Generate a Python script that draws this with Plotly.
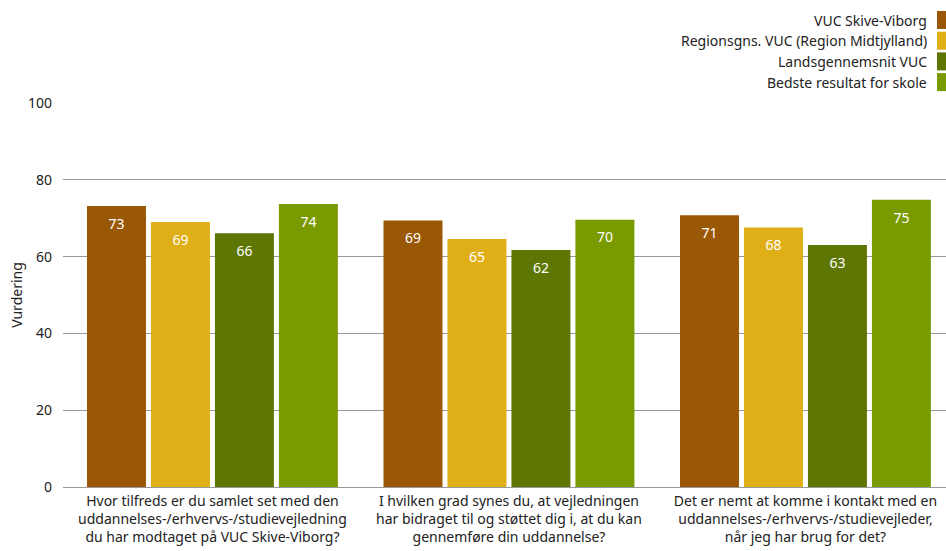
import plotly.graph_objects as go

categories = [
    "Hvor tilfreds er du samlet set med den<br>uddannelses-/erhvervs-/studievejledning<br>du har modtaget på VUC Skive-Viborg?",
    "I hvilken grad synes du, at vejledningen<br>har bidraget til og støttet dig i, at du kan<br>gennemføre din uddannelse?",
    "Det er nemt at komme i kontakt med en<br>uddannelses-/erhvervs-/studievejleder,<br>når jeg har brug for det?",
]
series_names = [
    "VUC Skive-Viborg",
    "Regionsgns. VUC (Region Midtjylland)",
    "Landsgennemsnit VUC",
    "Bedste resultat for skole",
]
vuc_skive = [73.2, 69.4, 70.8]
region_avg = [69.0, 64.6, 67.6]
national_avg = [66.1, 61.7, 63.0]
best_school = [73.7, 69.6, 74.8]
series_values = [vuc_skive, region_avg, national_avg, best_school]
colors = ["#9A5705", "#E0AE17", "#5E7603", "#7A9A01"]
y_ticks = [0, 20, 40, 60, 80, 100]

FONT = "Noto Sans, DejaVu Sans, sans-serif"

fig = go.Figure()
for i, (name, vals, col) in enumerate(zip(series_names, series_values, colors)):
    fig.add_trace(go.Bar(
        name=name, x=categories, y=vals, marker_color=col, marker_line_width=0,
        offsetgroup=str(i), showlegend=False, hoverinfo="y",
    ))
for i, (name, vals) in enumerate(zip(series_names, series_values)):
    fig.add_trace(go.Scatter(
        name=name, x=categories, y=vals, mode="markers+text",
        marker=dict(size=18, opacity=0), offsetgroup=str(i),
        text=[f"{v:.0f}" for v in vals], textposition="bottom center",
        textfont=dict(color="white", size=14, family=FONT),
        showlegend=False, hoverinfo="skip", cliponaxis=False,
    ))

# manual legend with markers on the right
for i, (name, col) in enumerate(zip(series_names, colors)):
    yc = 20 + i * 20.7
    fig.add_annotation(
        xref="paper", yref="paper", x=(929 - 63) / (946 - 63),
        y=(487 - yc) / (487 - 103), xanchor="right", yanchor="middle",
        text=name, showarrow=False,
        font=dict(size=14, color="#222222", family=FONT),
    )
    fig.add_shape(
        type="rect", xref="paper", yref="paper",
        x0=(937 - 63) / (946 - 63), x1=(947 - 63) / (946 - 63),
        y0=(487 - (yc - 9)) / (487 - 103), y1=(487 - (yc + 9)) / (487 - 103),
        fillcolor=col, line_width=0,
    )

fig.update_layout(
    width=946, height=551,
    margin=dict(l=63, r=0, t=103, b=64, autoexpand=False),
    paper_bgcolor="white", plot_bgcolor="white",
    barmode="group", bargap=0.137, bargroupgap=0.078,
    scattermode="group", scattergap=0.137,
    font=dict(family=FONT, size=14, color="#222222"),
    showlegend=False,
)
fig.update_xaxes(tickfont=dict(size=14), ticks="", showline=False,
                 range=[-0.504, 2.474], ticklabelstandoff=4)
fig.update_yaxes(
    range=[0, 100], tickvals=y_ticks, showgrid=True, gridcolor="#999999",
    gridwidth=1, zeroline=True, zerolinecolor="#999999", zerolinewidth=1,
    title=dict(text="Vurdering", font=dict(size=14), standoff=2),
    tickfont=dict(size=14), ticks="", ticklabelstandoff=10,
)
fig.write_html(
    "out.html",
    config={"displayModeBar": False},
    post_script="document.body.style.margin='0';document.body.style.overflow='hidden';",
)
